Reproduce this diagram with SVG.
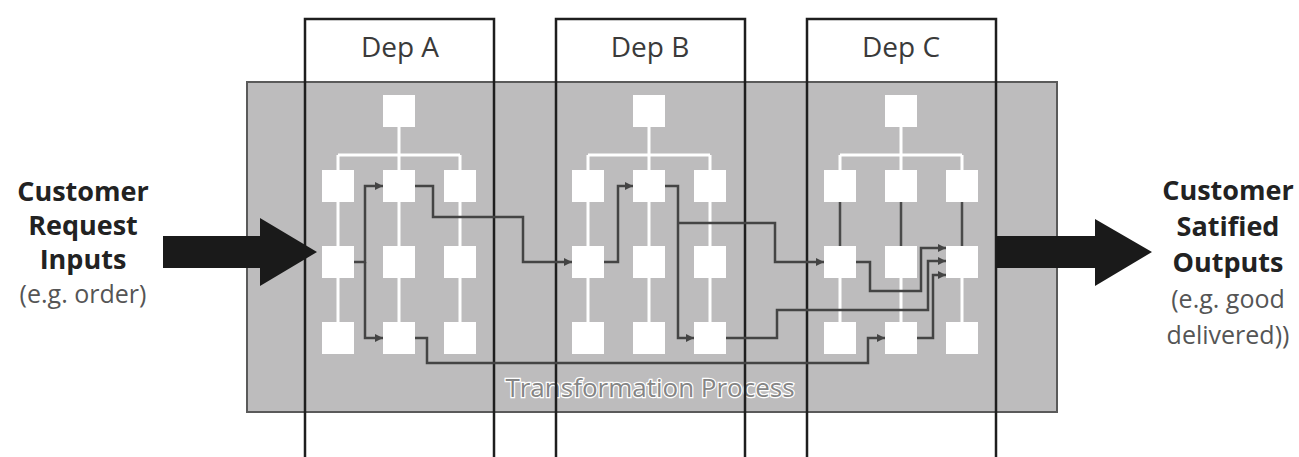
<svg xmlns="http://www.w3.org/2000/svg" width="1299" height="457" viewBox="0 0 1299 457">
  <style>
    .proc { fill: #bdbcbd; stroke: #5a5a5a; stroke-width: 2; }
    .dept { fill: none; stroke: #1e1e1e; stroke-width: 2.5; }
    .dept-label { font-family: "Open Sans", "Liberation Sans", sans-serif; font-size: 28px; fill: #3a3a3a; text-anchor: middle; }
    .node { fill: #ffffff; }
    .tree { fill: none; stroke: #ffffff; stroke-width: 3; }
    .link { fill: none; stroke: #4a4a4a; stroke-width: 2.5; }
    .flow { fill: none; stroke: #444444; stroke-width: 2.5; marker-end: url(#ah); }
    .big { fill: #1a1a1a; }
    .io-title { font-family: "Open Sans", "Liberation Sans", sans-serif; font-size: 27px; font-weight: 700; fill: #222222; text-anchor: middle; }
    .io-note { font-family: "Open Sans", "Liberation Sans", sans-serif; font-size: 25px; fill: #555555; text-anchor: middle; }
    .proc-label { font-family: "Open Sans", "Liberation Sans", sans-serif; font-size: 26px; fill: #858585; stroke: #ffffff; stroke-width: 2.5; paint-order: stroke; text-anchor: middle; }
  </style>
  <defs>
    <marker id="ah" viewBox="0 0 8 8" refX="8" refY="4" markerWidth="8" markerHeight="8" markerUnits="userSpaceOnUse" orient="auto">
      <path d="M0,0 L8,4 L0,8 z" fill="#444444"/>
    </marker>
  </defs>

  <!-- transformation process area -->
  <g id="process">
    <rect class="proc" x="247" y="82" width="810" height="330"/>
    <text class="proc-label" x="650" y="397">Transformation Process</text>
  </g>

  <!-- department A -->
  <g id="dep-a">
    <rect class="dept" x="305" y="19" width="189" height="460"/>
    <text class="dept-label" x="400" y="57">Dep A</text>
    <path class="tree" d="M399,127 V155 M338,155 H460 M338,155 V170 M399,155 V170 M460,155 V170 M338,202 V246 M399,202 V246 M460,202 V246 M338,278 V322 M399,278 V322 M460,278 V322"/>
    <g id="a-top"><rect class="node" x="383" y="95" width="32" height="32"/></g>
    <g id="a-r1c1"><rect class="node" x="322" y="170" width="32" height="32"/></g>
    <g id="a-r1c2"><rect class="node" x="383" y="170" width="32" height="32"/></g>
    <g id="a-r1c3"><rect class="node" x="444" y="170" width="32" height="32"/></g>
    <g id="a-r2c1"><rect class="node" x="322" y="246" width="32" height="32"/></g>
    <g id="a-r2c2"><rect class="node" x="383" y="246" width="32" height="32"/></g>
    <g id="a-r2c3"><rect class="node" x="444" y="246" width="32" height="32"/></g>
    <g id="a-r3c1"><rect class="node" x="322" y="322" width="32" height="32"/></g>
    <g id="a-r3c2"><rect class="node" x="383" y="322" width="32" height="32"/></g>
    <g id="a-r3c3"><rect class="node" x="444" y="322" width="32" height="32"/></g>
  </g>

  <!-- department B -->
  <g id="dep-b">
    <rect class="dept" x="556" y="19" width="189" height="460"/>
    <text class="dept-label" x="650" y="57">Dep B</text>
    <path class="tree" d="M649,127 V155 M588,155 H710 M588,155 V170 M649,155 V170 M710,155 V170 M588,202 V246 M649,202 V246 M710,202 V246 M588,278 V322 M649,278 V322 M710,278 V322"/>
    <g id="b-top"><rect class="node" x="633" y="95" width="32" height="32"/></g>
    <g id="b-r1c1"><rect class="node" x="572" y="170" width="32" height="32"/></g>
    <g id="b-r1c2"><rect class="node" x="633" y="170" width="32" height="32"/></g>
    <g id="b-r1c3"><rect class="node" x="694" y="170" width="32" height="32"/></g>
    <g id="b-r2c1"><rect class="node" x="572" y="246" width="32" height="32"/></g>
    <g id="b-r2c2"><rect class="node" x="633" y="246" width="32" height="32"/></g>
    <g id="b-r2c3"><rect class="node" x="694" y="246" width="32" height="32"/></g>
    <g id="b-r3c1"><rect class="node" x="572" y="322" width="32" height="32"/></g>
    <g id="b-r3c2"><rect class="node" x="633" y="322" width="32" height="32"/></g>
    <g id="b-r3c3"><rect class="node" x="694" y="322" width="32" height="32"/></g>
  </g>

  <!-- department C -->
  <g id="dep-c">
    <rect class="dept" x="807" y="19" width="189" height="460"/>
    <text class="dept-label" x="901" y="57">Dep C</text>
    <path class="tree" d="M901,127 V155 M840,155 H962 M840,155 V170 M901,155 V170 M962,155 V170 M840,278 V322 M901,278 V322 M962,278 V322"/>
    <path class="link" d="M840,202 V246 M901,202 V246 M962,202 V246"/>
    <g id="c-top"><rect class="node" x="885" y="95" width="32" height="32"/></g>
    <g id="c-r1c1"><rect class="node" x="824" y="170" width="32" height="32"/></g>
    <g id="c-r1c2"><rect class="node" x="885" y="170" width="32" height="32"/></g>
    <g id="c-r1c3"><rect class="node" x="946" y="170" width="32" height="32"/></g>
    <g id="c-r2c1"><rect class="node" x="824" y="246" width="32" height="32"/></g>
    <g id="c-r2c2"><rect class="node" x="885" y="246" width="32" height="32"/></g>
    <g id="c-r2c3"><rect class="node" x="946" y="246" width="32" height="32"/></g>
    <g id="c-r3c1"><rect class="node" x="824" y="322" width="32" height="32"/></g>
    <g id="c-r3c2"><rect class="node" x="885" y="322" width="32" height="32"/></g>
    <g id="c-r3c3"><rect class="node" x="946" y="322" width="32" height="32"/></g>
  </g>

  <!-- work flow between nodes -->
  <g id="connectors">
    <path class="flow" d="M354,262 H365 V186 H383"/>
    <path class="flow" d="M365,262 V338 H383"/>
    <path class="flow" d="M415,186 H433 V217 H523 V262 H572"/>
    <path class="flow" d="M415,338 H427 V363 H868 V338 H885"/>
    <path class="flow" d="M604,262 H618 V186 H633"/>
    <path class="flow" d="M665,186 H678 V338 H694"/>
    <path class="flow" d="M678,223 H775 V262 H824"/>
    <path class="flow" d="M726,338 H777 V310 H928 V261 H946"/>
    <path class="flow" d="M856,262 H870 V291 H921 V248 H946"/>
    <path class="flow" d="M917,338 H933 V275 H946"/>
  </g>

  <!-- input and output arrows -->
  <g id="input">
    <polygon class="big" points="163,236 260,236 260,218 317,252 260,286 260,268 163,268"/>
    <text class="io-title" x="83" y="201">Customer</text>
    <text class="io-title" x="83" y="235">Request</text>
    <text class="io-title" x="83" y="269">Inputs</text>
    <text class="io-note" x="83" y="303">(e.g. order)</text>
  </g>
  <g id="output">
    <polygon class="big" points="996,236 1095,236 1095,219 1152,252 1095,286 1095,268 996,268"/>
    <text class="io-title" x="1228" y="200">Customer</text>
    <text class="io-title" x="1228" y="236">Satified</text>
    <text class="io-title" x="1228" y="272">Outputs</text>
    <text class="io-note" x="1228" y="308">(e.g. good</text>
    <text class="io-note" x="1228" y="344">delivered))</text>
  </g>
</svg>
